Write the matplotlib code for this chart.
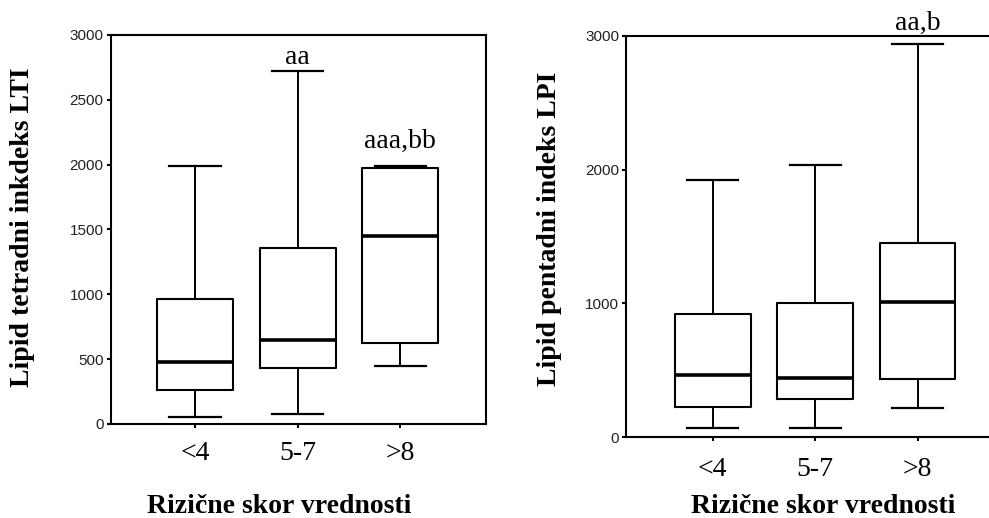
import matplotlib
matplotlib.use("Agg")
import matplotlib.pyplot as plt

# score groups on the x axis
GROUPS = ["<4", "5-7", ">8"]

# LTI box statistics per group (whisker low, Q1, median, Q3, whisker high)
LTI_WLO = [50, 80, 445]
LTI_Q1 = [260, 430, 625]
LTI_MED = [480, 645, 1450]
LTI_Q3 = [960, 1355, 1975]
LTI_WHI = [1990, 2720, 1990]
LTI_MARKS = ["", "aa", "aaa,bb"]
LTI_MARK_Y = [None, 2830, 2180]

# LPI box statistics per group
LPI_WLO = [70, 70, 220]
LPI_Q1 = [230, 285, 435]
LPI_MED = [465, 440, 1010]
LPI_Q3 = [920, 1000, 1450]
LPI_WHI = [1920, 2035, 2940]
LPI_MARKS = ["", "", "aa,b"]
LPI_MARK_Y = [None, None, 3090]

SERIF = "Liberation Serif"
SANS = "Liberation Sans"
W, H = 989, 518


def stats(wlo, q1, med, q3, whi):
    return [dict(whislo=a, q1=b, med=c, q3=d, whishi=e, fliers=[])
            for a, b, c, d, e in zip(wlo, q1, med, q3, whi)]


def draw(ax, st, marks, mark_y, yticks, xlim, xpad):
    ax.bxp(st, positions=[1, 2, 3], widths=0.74, capwidths=0.5,
           showfliers=False,
           boxprops=dict(color="black", linewidth=1.5),
           whiskerprops=dict(color="black", linewidth=1.4),
           capprops=dict(color="black", linewidth=1.6),
           medianprops=dict(color="black", linewidth=2.6))
    ax.set_xlim(*xlim)
    ax.set_ylim(0, 3000)
    ax.set_yticks(yticks)
    ax.set_yticklabels([str(v) for v in yticks], fontfamily=SANS,
                       fontsize=11, color="#222222")
    ax.set_xticks([1, 2, 3])
    ax.set_xticklabels(GROUPS, fontfamily=SERIF, fontsize=20)
    ax.tick_params(axis="y", length=3, width=1.5, pad=2)
    ax.tick_params(axis="x", length=3, width=1.5, pad=xpad)
    for sp in ax.spines.values():
        sp.set_linewidth(1.5)
    for x, (m, y) in enumerate(zip(marks, mark_y), start=1):
        if m:
            ax.text(x, y, m, ha="center", va="center", fontfamily=SERIF,
                    fontsize=20, clip_on=False)


fig = plt.figure(figsize=(W / 100, H / 100), dpi=100)

ax1 = fig.add_axes([0.1119, 0.1815, 0.3795, 0.751])
draw(ax1, stats(LTI_WLO, LTI_Q1, LTI_MED, LTI_Q3, LTI_WHI), LTI_MARKS,
     LTI_MARK_Y, [0, 500, 1000, 1500, 2000, 2500, 3000], (0.18, 3.835), 9.5)

ax2 = fig.add_axes([0.633, 0.1558, 0.3807, 0.7753])
draw(ax2, stats(LPI_WLO, LPI_Q1, LPI_MED, LPI_Q3, LPI_WHI), LPI_MARKS,
     LPI_MARK_Y, [0, 1000, 2000, 3000], (0.153, 3.83), 11)

# axis titles placed in figure pixels
label_kw = dict(fontfamily=SERIF, fontweight="bold", fontsize=20)
fig.text(23 / W, 1 - 227 / H, "Lipid tetradni inkdeks LTI", rotation=90,
         ha="center", va="center", **label_kw)
fig.text(550 / W, 1 - 229 / H, "Lipid pentadni indeks LPI", rotation=90,
         ha="center", va="center", **label_kw)
fig.text(279 / W, 1 - 513 / H, "Rizične skor vrednosti", ha="center",
         va="baseline", **label_kw)
fig.text(823 / W, 1 - 513 / H, "Rizične skor vrednosti", ha="center",
         va="baseline", **label_kw)

fig.savefig("out.png", dpi=100)
